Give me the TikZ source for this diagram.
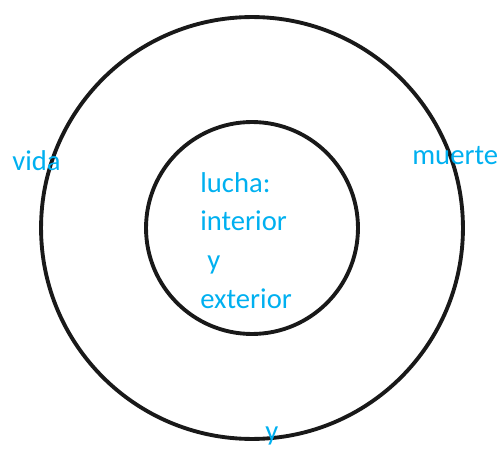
\documentclass[tikz,border=0pt]{standalone}
\usepackage{fontspec}
\setmainfont{Carlito}
\usepackage{xcolor}
\usepackage{tikz}
\usetikzlibrary{positioning}
\definecolor{wordblue}{HTML}{00B0F0}

\begin{document}
\begin{tikzpicture}[
  x=0.02cm, y=-0.02cm,
  every node/.style={font=\fontsize{16.3}{20}\selectfont, text=wordblue, inner sep=0pt},
  ring/.style={draw=black!90, line width=2.2pt},
  wordlabel/.style={anchor=base west}
]

\useasboundingbox (0,0) rectangle (500,449);

\coordinate (centre) at (252,228);

\draw[ring] (centre) circle (4.22cm);
\draw[ring] (centre) circle (2.12cm);

\node[wordlabel] (vida) at (12,171) {vida};
\node[wordlabel] (muerte) at (412,165) {muerte};

\node[wordlabel] (lucha) at (200,193) {lucha:};
\node[wordlabel] (interior) at (200,231) {interior};
\node[wordlabel] (ymid) at (207,269) {y};
\node[wordlabel] (exterior) at (200,308) {exterior};

\node[wordlabel] (ybottom) at (265,440) {y};

\end{tikzpicture}
\end{document}
